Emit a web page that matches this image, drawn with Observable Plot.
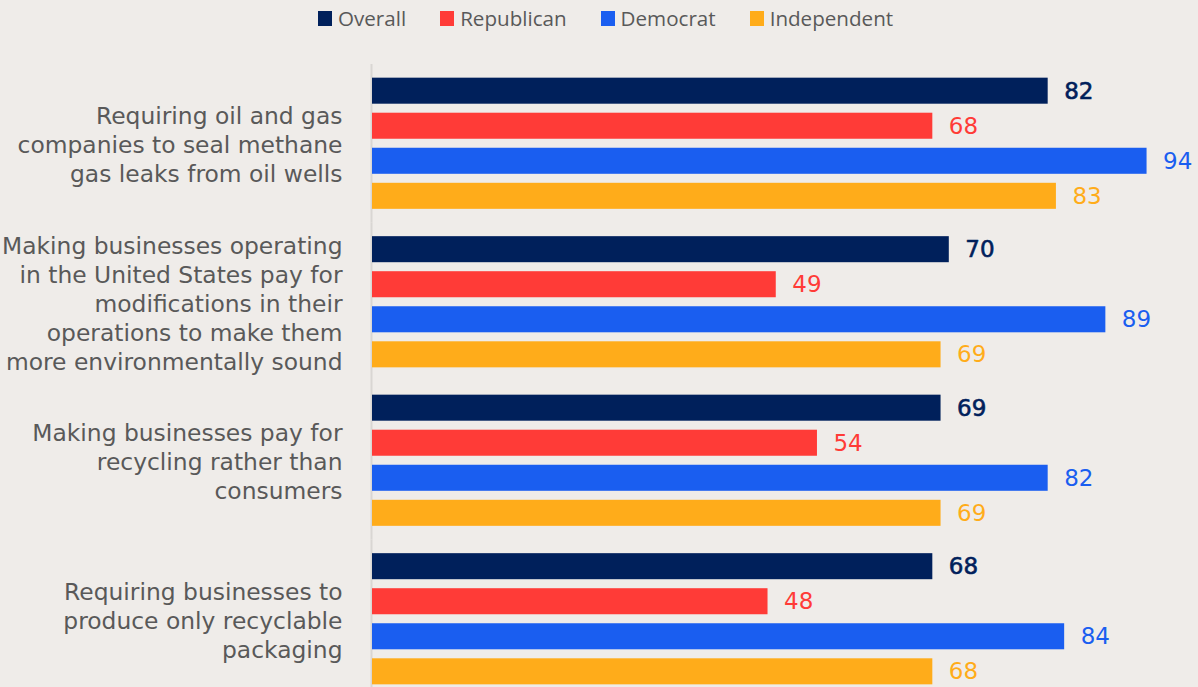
<!DOCTYPE html>
<html><head><meta charset="utf-8">
<script src="https://cdn.jsdelivr.net/npm/d3@7"></script>
<script src="https://cdn.jsdelivr.net/npm/@observablehq/plot@0.6"></script>
<style>
html,body{margin:0;padding:0;background:#efece9;overflow:hidden;width:1198px;height:687px;}
#legend{height:36px;display:flex;align-items:center;padding-left:318px;gap:34px;font-family:"Open Sans",sans-serif;font-size:20.6px;color:#595959;box-sizing:border-box;}
.item{display:flex;align-items:center;gap:6px;}
.sw{width:14px;height:15px;display:inline-block;}
#chart svg{display:block;}
</style></head><body>
<div id="legend"></div>
<div id="chart"></div>
<script>
const questions = [
  "Requiring oil and gas\ncompanies to seal methane\ngas leaks from oil wells",
  "Making businesses operating\nin the United States pay for\nmodifications in their\noperations to make them\nmore environmentally sound",
  "Making businesses pay for\nrecycling rather than\nconsumers",
  "Requiring businesses to\nproduce only recyclable\npackaging"
];
const parties = ["Overall", "Republican", "Democrat", "Independent"];
const colors = ["#00205b", "#ff3b37", "#1a5ef0", "#ffac1a"];
const overall = [82, 70, 69, 68];
const republican = [68, 49, 54, 48];
const democrat = [94, 89, 82, 84];
const independent = [83, 69, 69, 68];

const series = [overall, republican, democrat, independent];
const rows = questions.flatMap((q, i) => parties.map((p, j) => ({question: q, party: p, value: series[j][i]})));

const legend = document.getElementById("legend");
parties.forEach((p, j) => {
  const it = document.createElement("div");
  it.className = "item";
  const sw = document.createElement("span");
  sw.className = "sw";
  sw.style.background = colors[j];
  const tx = document.createElement("span");
  tx.textContent = p;
  it.appendChild(sw); it.appendChild(tx);
  legend.appendChild(it);
});

const chart = Plot.plot({
  width: 1198,
  height: 662,
  marginTop: 28,
  marginBottom: 0,
  marginLeft: 372,
  marginRight: 2,
  style: {background: "transparent", fontFamily: "DejaVu Sans", overflow: "visible"},
  x: {domain: [0, 100], axis: null},
  y: {domain: parties, axis: null, paddingInner: 0.257, paddingOuter: 0.39, round: false},
  fy: {domain: questions, axis: null, padding: 0, round: false},
  color: {domain: parties, range: colors},
  marks: [
    Plot.ruleX([0], {stroke: "#d9d6d3", strokeWidth: 2, dx: -1}),
    Plot.barX(rows, {fy: "question", y: "party", x: "value", fill: "party"}),
    Plot.text(rows.filter(d => d.party !== "Overall"), {fy: "question", y: "party", x: "value", text: d => String(d.value), fill: "party", textAnchor: "start", dx: 16, fontSize: 23}),
    Plot.text(rows.filter(d => d.party === "Overall"), {fy: "question", y: "party", x: "value", text: d => String(d.value), fill: "party", stroke: "party", strokeWidth: 0.6, textAnchor: "start", dx: 16, fontSize: 23}),
    Plot.text(questions, {fy: d => d, text: d => d, frameAnchor: "left", textAnchor: "end", dx: -30, fontSize: 23.4, lineHeight: 1.24, fill: "#595959"})
  ]
});
document.getElementById("chart").appendChild(chart);
</script>
</body></html>
